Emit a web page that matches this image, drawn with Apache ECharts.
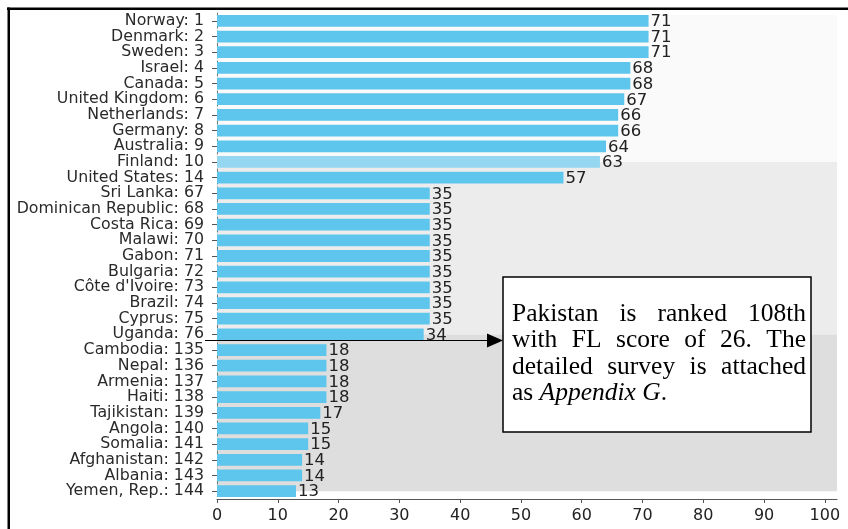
<!DOCTYPE html>
<html><head><meta charset="utf-8">
<script src="https://cdn.jsdelivr.net/npm/echarts@6/dist/echarts.min.js"></script>
<style>html,body{margin:0;padding:0;background:#fff}#c{width:848px;height:529px}</style>
</head><body><div id="c"></div>
<script>
const categories = ['Norway: 1','Denmark: 2','Sweden: 3','Israel: 4','Canada: 5','United Kingdom: 6','Netherlands: 7','Germany: 8','Australia: 9','Finland: 10',
  'United States: 14','Sri Lanka: 67','Dominican Republic: 68','Costa Rica: 69','Malawi: 70','Gabon: 71','Bulgaria: 72','Côte d\'Ivoire: 73','Brazil: 74','Cyprus: 75','Uganda: 76',
  'Cambodia: 135','Nepal: 136','Armenia: 137','Haiti: 138','Tajikistan: 139','Angola: 140','Somalia: 141','Afghanistan: 142','Albania: 143','Yemen, Rep.: 144'];
const values = [71,71,71,68,68,67,66,66,64,63,57,35,35,35,35,35,35,35,35,35,34,18,18,18,18,17,15,15,14,14,13];
const highlighted = 'Finland: 10';
const xTickValues = [0,10,20,30,40,50,60,70,80,90,100];
const xMax = 102;
// background bands: [from category, to category]
const bands = [['Norway: 1','Finland: 10'],['Finland: 10','Uganda: 76'],['Uganda: 76','Yemen, Rep.: 144']];
const bandColors = ['#fafafa','#ececec','#dedede'];
const annotationLines = [
  [{t:'Pakistan'},{t:'is'},{t:'ranked'},{t:'108th'}],
  [{t:'with'},{t:'FL'},{t:'score'},{t:'of'},{t:'26.'},{t:'The'}],
  [{t:'detailed'},{t:'survey'},{t:'is'},{t:'attached'}],
  [{t:'as '},{t:'Appendix G',i:true},{t:'.'}]
];
const arrowFrom = 'Uganda: 76';

const BAR = '#5ec5ec', BAR_HI = '#95d7f1';
const chart = echarts.init(document.getElementById('c'), null, {renderer:'canvas'});
const sans = 'DejaVu Sans';
chart.setOption({
  animation:false,
  backgroundColor:'#fff',
  grid:{left:217,right:11,top:13,bottom:30,containLabel:false},
  xAxis:{type:'value',min:0,max:xMax,
    axisLine:{show:true,lineStyle:{color:'#555',width:1}},
    axisTick:{show:true,length:4,lineStyle:{color:'#555'},customValues:xTickValues},
    axisLabel:{color:'#222',fontFamily:sans,fontSize:16,margin:9,customValues:xTickValues},
    splitLine:{show:false}},
  yAxis:{type:'category',inverse:true,data:categories,
    axisLine:{show:true,lineStyle:{color:'#777',type:[3,3],width:1}},
    axisTick:{show:true,alignWithLabel:true,length:5,lineStyle:{color:'#555'}},
    axisLabel:{color:'#2a2a2a',fontFamily:sans,fontSize:15.8,margin:13,interval:0}},
  series:[{type:'bar',z:5,barCategoryGap:'25%',
    data:values.map((v,i)=>({value:v,itemStyle:{color:categories[i]===highlighted?BAR_HI:BAR}})),
    label:{show:true,position:'right',distance:2,color:'#222',fontFamily:sans,fontSize:16.5,offset:[0,1]}}]
});

// bands and annotation from axis positions
const yc = c => chart.convertToPixel({yAxisIndex:0}, c);
const x0 = chart.convertToPixel({xAxisIndex:0},0), x1 = chart.convertToPixel({xAxisIndex:0},xMax);
const step = yc(categories[1]) - yc(categories[0]);
const elements = [];
bands.forEach((b,k)=>{
  let top = yc(b[0]); const bot = yc(b[1]);
  if(k===0) top -= step*0.38;
  elements.push({type:'rect',z:0,silent:true,shape:{x:x0,y:top,width:x1-x0,height:bot-top},style:{fill:bandColors[k]}});
});
// frame lines
elements.push({type:'line',z:50,shape:{x1:7,y1:8.75,x2:848,y2:8.75},style:{stroke:'#000',lineWidth:2.5}});
elements.push({type:'line',z:50,shape:{x1:8.75,y1:7.5,x2:8.75,y2:529},style:{stroke:'#000',lineWidth:2.5}});
// annotation box
const box = {x:503,y:277,w:308,h:155};
const ay = Math.round(yc(arrowFrom) + step*0.36) + 0.5;
elements.push({type:'line',z:60,shape:{x1:205,y1:ay,x2:490,y2:ay},style:{stroke:'#000',lineWidth:1.2}});
elements.push({type:'polygon',z:60,shape:{points:[[487,ay-7],[box.x,ay],[487,ay+7]]},style:{fill:'#000'}});
elements.push({type:'rect',z:60,shape:{x:box.x,y:box.y,width:box.w,height:box.h},style:{fill:'#fff',stroke:'#000',lineWidth:1.5}});
const serif = '"Liberation Serif", "Times New Roman", serif';
const fs = 25.5;
const ctx = document.createElement('canvas').getContext('2d');
const fontOf = it => (it ? 'italic ' : '') + fs + 'px ' + serif;
const tx0 = 512, tx1 = 806, lineY0 = 314, lh = 26.5;
annotationLines.forEach((words,li)=>{
  const ws = words.map(w=>{ctx.font = fontOf(w.i); return ctx.measureText(w.t).width;});
  const total = ws.reduce((a,b)=>a+b,0);
  const last = li === annotationLines.length-1;
  const gap = last ? 0 : (tx1 - tx0 - total)/(words.length-1);
  let x = tx0;
  words.forEach((w,k)=>{
    elements.push({type:'text',z:61,style:{text:w.t,x:x,y:lineY0+li*lh,font:fontOf(w.i),fill:'#000',textVerticalAlign:'middle',textAlign:'left'}});
    x += ws[k] + gap;
  });
});
chart.setOption({graphic:{elements}});
</script></body></html>
